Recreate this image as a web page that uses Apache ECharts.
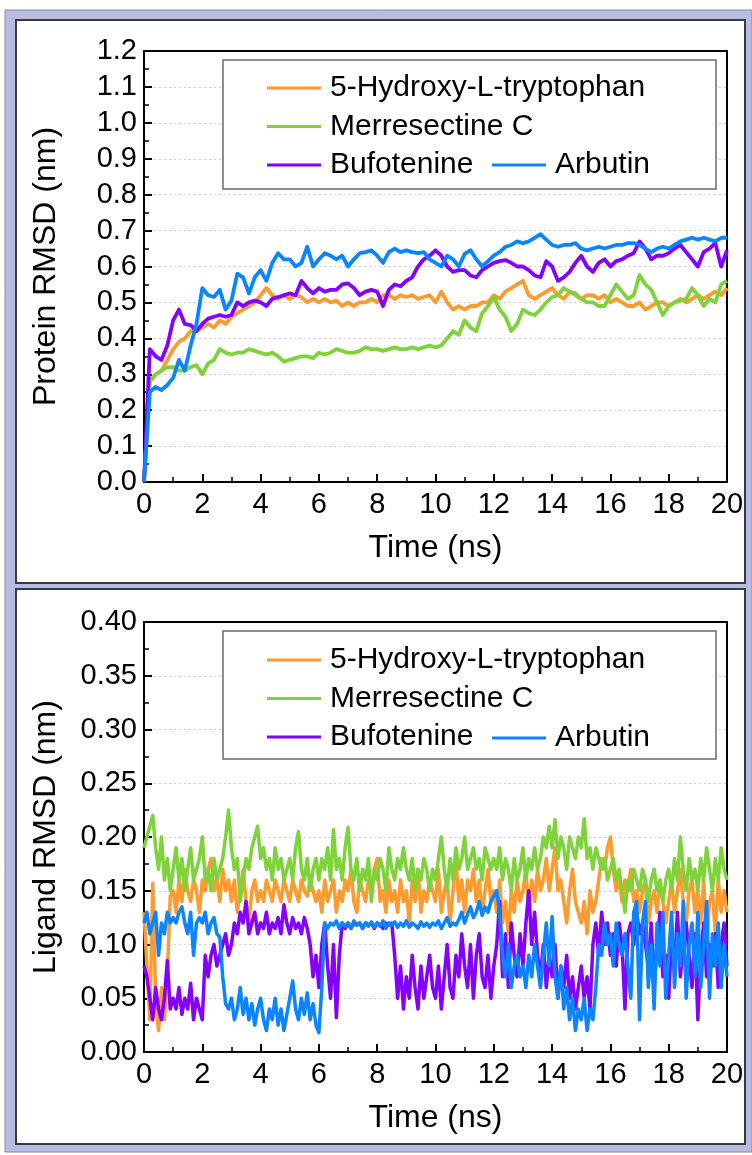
<!DOCTYPE html>
<html>
<head>
<meta charset="utf-8">
<script src="https://cdn.jsdelivr.net/npm/echarts@6/dist/echarts.min.js"></script>
<style>
html,body{margin:0;padding:0;background:#ffffff;}
#chart{width:752px;height:1155px;}
</style>
</head>
<body>
<div id="chart"></div>
<script>
// ---------- DATA ----------
const seriesNames = ['5-Hydroxy-L-tryptophan', 'Merresectine C', 'Bufotenine', 'Arbutin'];
const seriesColors = ['#ff9a2e', '#7ed23a', '#8400ff', '#0a84ff'];

const xTicks = [0, 2, 4, 6, 8, 10, 12, 14, 16, 18, 20];
const proteinTicks = [0.0, 0.1, 0.2, 0.3, 0.4, 0.5, 0.6, 0.7, 0.8, 0.9, 1.0, 1.1, 1.2];
const ligandTicks = [0.00, 0.05, 0.10, 0.15, 0.20, 0.25, 0.30, 0.35, 0.40];

// Protein RMSD (nm), sampled every 0.2 ns from 0 to 20 ns
const proteinStep = 0.2;
const proteinHTP = [
  0.00,0.28,0.30,0.31,0.34,0.37,0.39,0.40,0.42,0.42,
  0.43,0.44,0.43,0.45,0.44,0.46,0.47,0.48,0.49,0.50,
  0.52,0.54,0.52,0.51,0.52,0.51,0.52,0.515,0.50,0.51,
  0.50,0.51,0.50,0.505,0.49,0.50,0.49,0.50,0.50,0.51,
  0.50,0.52,0.52,0.51,0.52,0.515,0.52,0.51,0.515,0.52,
  0.50,0.53,0.50,0.48,0.49,0.48,0.49,0.49,0.50,0.50,
  0.52,0.51,0.53,0.54,0.55,0.56,0.52,0.51,0.52,0.53,
  0.54,0.52,0.51,0.53,0.52,0.51,0.52,0.52,0.51,0.52,
  0.50,0.51,0.50,0.49,0.49,0.50,0.48,0.49,0.50,0.50,
  0.49,0.50,0.51,0.50,0.51,0.52,0.51,0.52,0.53,0.52,
  0.54
];
const proteinMerC = [
  0.00,0.28,0.30,0.31,0.32,0.32,0.31,0.31,0.32,0.325,
  0.30,0.33,0.34,0.37,0.36,0.355,0.36,0.36,0.37,0.365,
  0.36,0.355,0.36,0.35,0.335,0.34,0.345,0.35,0.35,0.345,
  0.36,0.355,0.36,0.37,0.365,0.36,0.36,0.365,0.375,0.37,
  0.37,0.365,0.37,0.375,0.37,0.37,0.375,0.37,0.375,0.38,
  0.375,0.38,0.40,0.42,0.41,0.45,0.43,0.42,0.47,0.49,
  0.515,0.48,0.46,0.42,0.44,0.48,0.47,0.465,0.48,0.50,
  0.515,0.52,0.54,0.53,0.525,0.51,0.50,0.50,0.49,0.49,
  0.52,0.55,0.53,0.51,0.52,0.576,0.55,0.535,0.50,0.465,
  0.49,0.50,0.505,0.51,0.54,0.52,0.49,0.51,0.50,0.55,
  0.56
];
const proteinBufo = [
  0.00,0.37,0.35,0.34,0.38,0.45,0.48,0.44,0.437,0.42,
  0.44,0.455,0.46,0.465,0.46,0.465,0.50,0.49,0.50,0.505,
  0.50,0.49,0.51,0.515,0.52,0.525,0.52,0.56,0.54,0.525,
  0.54,0.53,0.535,0.535,0.55,0.553,0.54,0.52,0.53,0.535,
  0.53,0.49,0.535,0.55,0.545,0.56,0.57,0.60,0.62,0.63,
  0.645,0.63,0.60,0.585,0.59,0.59,0.575,0.57,0.59,0.60,
  0.61,0.615,0.618,0.61,0.60,0.60,0.59,0.575,0.57,0.615,
  0.60,0.56,0.57,0.585,0.61,0.63,0.60,0.585,0.61,0.62,
  0.60,0.615,0.62,0.63,0.637,0.67,0.65,0.62,0.63,0.63,
  0.637,0.65,0.66,0.64,0.62,0.60,0.64,0.65,0.665,0.60,
  0.645
];
const proteinArb = [
  0.00,0.25,0.265,0.256,0.27,0.29,0.34,0.31,0.38,0.44,
  0.54,0.52,0.515,0.535,0.48,0.505,0.58,0.57,0.525,0.57,
  0.59,0.56,0.61,0.637,0.62,0.62,0.60,0.61,0.655,0.60,
  0.62,0.637,0.63,0.62,0.63,0.60,0.62,0.637,0.64,0.645,
  0.63,0.61,0.64,0.65,0.64,0.645,0.64,0.637,0.64,0.62,
  0.61,0.60,0.63,0.62,0.60,0.635,0.645,0.62,0.60,0.615,
  0.63,0.64,0.655,0.66,0.67,0.665,0.67,0.68,0.69,0.675,
  0.66,0.655,0.66,0.66,0.665,0.65,0.645,0.65,0.655,0.65,
  0.655,0.66,0.66,0.665,0.665,0.66,0.65,0.64,0.65,0.655,
  0.65,0.66,0.67,0.675,0.68,0.675,0.68,0.675,0.67,0.68,
  0.68
];

// Ligand RMSD (nm), sampled every 0.1 ns from 0 to 20 ns
const ligandStep = 0.1;
const ligandHTP = [
  0.13,0.08,0.03,0.157,0.05,0.02,0.06,0.03,0.07,0.145,
  0.15,0.13,0.16,0.14,0.17,0.15,0.14,0.16,0.15,0.13,
  0.16,0.15,0.17,0.18,0.15,0.16,0.14,0.17,0.15,0.16,
  0.14,0.16,0.13,0.15,0.17,0.14,0.12,0.15,0.16,0.14,
  0.15,0.14,0.16,0.15,0.14,0.16,0.15,0.14,0.16,0.15,
  0.14,0.16,0.15,0.14,0.16,0.15,0.145,0.16,0.15,0.14,
  0.15,0.13,0.16,0.14,0.15,0.16,0.13,0.15,0.14,0.16,
  0.15,0.17,0.14,0.13,0.16,0.15,0.14,0.16,0.15,0.17,
  0.18,0.14,0.15,0.13,0.16,0.14,0.15,0.13,0.16,0.14,
  0.15,0.12,0.16,0.14,0.17,0.13,0.15,0.14,0.16,0.15,
  0.14,0.17,0.13,0.15,0.16,0.12,0.15,0.18,0.14,0.16,
  0.13,0.16,0.15,0.17,0.14,0.16,0.13,0.15,0.17,0.14,
  0.15,0.13,0.16,0.12,0.14,0.11,0.15,0.13,0.16,0.14,
  0.15,0.17,0.13,0.16,0.14,0.17,0.15,0.16,0.18,0.15,
  0.17,0.19,0.15,0.16,0.14,0.12,0.15,0.17,0.14,0.13,
  0.12,0.14,0.11,0.15,0.13,0.14,0.16,0.18,0.17,0.19,
  0.20,0.17,0.15,0.16,0.14,0.16,0.15,0.17,0.14,0.15,
  0.13,0.15,0.16,0.12,0.14,0.15,0.13,0.16,0.14,0.12,
  0.14,0.16,0.13,0.15,0.17,0.14,0.12,0.15,0.16,0.13,
  0.15,0.12,0.16,0.10,0.14,0.15,0.11,0.16,0.13,0.15,
  0.13
];
const ligandMerC = [
  0.19,0.20,0.21,0.22,0.19,0.17,0.20,0.16,0.18,0.15,
  0.17,0.19,0.16,0.18,0.15,0.17,0.19,0.16,0.17,0.18,
  0.20,0.16,0.17,0.15,0.18,0.16,0.17,0.18,0.20,0.225,
  0.19,0.17,0.18,0.14,0.16,0.18,0.17,0.19,0.20,0.21,
  0.18,0.19,0.17,0.18,0.16,0.19,0.17,0.18,0.16,0.17,
  0.18,0.16,0.19,0.205,0.17,0.16,0.18,0.15,0.17,0.18,
  0.16,0.18,0.17,0.19,0.16,0.207,0.17,0.18,0.16,0.19,
  0.209,0.17,0.16,0.18,0.15,0.17,0.16,0.18,0.14,0.17,
  0.16,0.18,0.17,0.15,0.19,0.17,0.16,0.18,0.17,0.19,
  0.17,0.16,0.18,0.15,0.17,0.16,0.18,0.17,0.15,0.17,
  0.16,0.18,0.20,0.17,0.15,0.18,0.16,0.19,0.17,0.18,
  0.20,0.17,0.18,0.19,0.17,0.18,0.16,0.19,0.18,0.17,
  0.18,0.17,0.19,0.16,0.18,0.17,0.15,0.18,0.16,0.17,
  0.19,0.16,0.18,0.17,0.19,0.17,0.18,0.20,0.19,0.21,
  0.19,0.216,0.18,0.20,0.19,0.17,0.20,0.19,0.18,0.20,
  0.19,0.217,0.18,0.19,0.17,0.19,0.18,0.17,0.18,0.16,
  0.17,0.18,0.16,0.17,0.15,0.13,0.16,0.15,0.17,0.16,
  0.15,0.17,0.16,0.14,0.16,0.17,0.15,0.16,0.14,0.16,
  0.17,0.15,0.18,0.16,0.20,0.17,0.15,0.18,0.16,0.17,
  0.15,0.18,0.16,0.19,0.17,0.15,0.18,0.16,0.19,0.17,
  0.16
];
const ligandBufo = [
  0.08,0.07,0.05,0.03,0.06,0.04,0.03,0.05,0.085,0.04,
  0.05,0.04,0.06,0.035,0.05,0.04,0.064,0.03,0.05,0.04,
  0.03,0.09,0.07,0.09,0.10,0.08,0.09,0.10,0.11,0.09,
  0.10,0.12,0.11,0.13,0.12,0.14,0.11,0.12,0.13,0.11,
  0.12,0.115,0.13,0.11,0.12,0.115,0.125,0.11,0.137,0.12,
  0.11,0.125,0.115,0.12,0.11,0.125,0.115,0.10,0.07,0.09,
  0.06,0.10,0.12,0.08,0.05,0.10,0.032,0.09,0.12,0.115,
  0.12,0.115,0.12,0.118,0.12,0.115,0.12,0.118,0.12,0.115,
  0.12,0.118,0.115,0.12,0.118,0.12,0.09,0.05,0.08,0.04,
  0.07,0.05,0.09,0.06,0.04,0.08,0.05,0.07,0.09,0.06,
  0.05,0.08,0.04,0.07,0.10,0.06,0.05,0.09,0.07,0.11,
  0.08,0.06,0.10,0.05,0.09,0.11,0.07,0.06,0.09,0.05,
  0.08,0.10,0.14,0.07,0.11,0.06,0.12,0.09,0.07,0.11,
  0.08,0.12,0.15,0.10,0.13,0.09,0.07,0.10,0.06,0.09,
  0.07,0.10,0.05,0.08,0.06,0.09,0.05,0.07,0.04,0.06,
  0.08,0.05,0.07,0.04,0.10,0.12,0.09,0.13,0.10,0.12,
  0.09,0.11,0.08,0.12,0.10,0.04,0.11,0.12,0.10,0.13,
  0.11,0.12,0.10,0.08,0.12,0.06,0.10,0.13,0.07,0.09,
  0.05,0.11,0.08,0.13,0.07,0.10,0.12,0.09,0.06,0.11,
  0.03,0.09,0.12,0.07,0.10,0.08,0.11,0.06,0.10,0.12,
  0.08
];
const ligandArb = [
  0.12,0.13,0.11,0.12,0.13,0.09,0.12,0.11,0.13,0.12,
  0.125,0.12,0.13,0.135,0.12,0.11,0.13,0.09,0.12,0.125,
  0.12,0.13,0.11,0.12,0.125,0.11,0.107,0.07,0.045,0.04,
  0.05,0.03,0.04,0.06,0.035,0.05,0.03,0.045,0.025,0.04,
  0.05,0.03,0.02,0.04,0.03,0.05,0.025,0.04,0.02,0.035,
  0.05,0.066,0.04,0.03,0.05,0.035,0.055,0.03,0.045,0.025,
  0.018,0.06,0.12,0.115,0.12,0.118,0.122,0.115,0.12,0.117,
  0.12,0.115,0.122,0.118,0.12,0.115,0.12,0.117,0.121,0.116,
  0.12,0.117,0.122,0.115,0.12,0.118,0.121,0.116,0.12,0.117,
  0.122,0.116,0.12,0.118,0.115,0.121,0.117,0.12,0.116,0.12,
  0.118,0.122,0.115,0.12,0.125,0.117,0.12,0.118,0.123,0.13,
  0.12,0.128,0.135,0.125,0.13,0.14,0.127,0.135,0.13,0.14,
  0.145,0.15,0.13,0.09,0.07,0.10,0.06,0.08,0.09,0.07,
  0.08,0.06,0.09,0.07,0.10,0.08,0.06,0.09,0.12,0.08,
  0.126,0.07,0.05,0.08,0.04,0.06,0.03,0.05,0.02,0.04,
  0.03,0.05,0.02,0.04,0.03,0.06,0.10,0.09,0.12,0.10,
  0.11,0.08,0.12,0.10,0.09,0.11,0.08,0.05,0.13,0.14,
  0.03,0.12,0.14,0.06,0.10,0.04,0.12,0.08,0.13,0.05,
  0.09,0.13,0.06,0.11,0.08,0.14,0.05,0.10,0.12,0.07,
  0.13,0.06,0.10,0.14,0.05,0.11,0.08,0.12,0.06,0.10,
  0.07
];

// ---------- CHART ----------
const FONT = '"Liberation Sans", Arial, Helvetica, sans-serif';
const toPairs = (vals, step) => vals.map((v, i) => [Math.round(i * step * 100) / 100, v]);

const proteinData = [proteinHTP, proteinMerC, proteinBufo, proteinArb];
const ligandData = [ligandHTP, ligandMerC, ligandBufo, ligandArb];

const GRID_LEFT = 144, GRID_W = 583;
const grids = [
  {left: GRID_LEFT, top: 51, width: GRID_W, height: 431},
  {left: GRID_LEFT, top: 622, width: GRID_W, height: 430}
];

function makeX(idx) {
  return {
    gridIndex: idx, type: 'value',
    min: xTicks[0], max: xTicks[xTicks.length - 1], interval: xTicks[1] - xTicks[0],
    axisLine: {show: true, onZero: false, lineStyle: {color: '#000', width: 2}},
    axisTick: {show: true, inside: true, length: 8, lineStyle: {color: '#000', width: 2}},
    minorTick: {show: true, splitNumber: 2, length: 5, lineStyle: {color: '#000', width: 1.5}},
    axisLabel: {fontSize: 29, color: '#000', margin: 8, fontFamily: FONT},
    splitLine: {show: false},
    name: 'Time (ns)', nameLocation: 'middle', nameGap: 50,
    nameTextStyle: {fontSize: 32, color: '#000', fontFamily: FONT}
  };
}
function makeY(idx, ticks, digits, title) {
  return {
    gridIndex: idx, type: 'value',
    min: ticks[0], max: ticks[ticks.length - 1], interval: Math.round((ticks[1] - ticks[0]) * 1000) / 1000,
    axisLine: {show: true, onZero: false, lineStyle: {color: '#000', width: 2}},
    axisTick: {show: true, inside: true, length: 8, lineStyle: {color: '#000', width: 2}},
    minorTick: {show: true, splitNumber: 2, length: 5, lineStyle: {color: '#000', width: 1.5}},
    axisLabel: {fontSize: 29, color: '#000', margin: 7, fontFamily: FONT,
      formatter: v => v.toFixed(digits)},
    splitLine: {show: true, showMinLine: false, showMaxLine: false,
      lineStyle: {color: '#cfcfcf', width: 1.2, type: [2, 3]}},
    name: title, nameLocation: 'middle', nameGap: 82,
    nameTextStyle: {fontSize: 32, color: '#000', fontFamily: FONT}
  };
}

const series = [];
proteinData.forEach((vals, i) => {
  series.push({
    name: seriesNames[i], type: 'line', xAxisIndex: 0, yAxisIndex: 0,
    data: toPairs(vals, proteinStep), showSymbol: false, symbol: 'none',
    lineStyle: {color: seriesColors[i], width: 3.8, join: 'round'}, itemStyle: {color: seriesColors[i]},
    emphasis: {disabled: true}, animation: false, z: 3 + i * 0.01
  });
});
ligandData.forEach((vals, i) => {
  series.push({
    name: seriesNames[i], type: 'line', xAxisIndex: 1, yAxisIndex: 1,
    data: toPairs(vals, ligandStep), showSymbol: false, symbol: 'none',
    lineStyle: {color: seriesColors[i], width: 3.5, join: 'round'}, itemStyle: {color: seriesColors[i]},
    emphasis: {disabled: true}, animation: false, z: 3 + i * 0.01
  });
});

function legendBlock(names, left, top) {
  return {
    data: names, orient: 'vertical', left: left, top: top,
    icon: 'rect', itemWidth: 54, itemHeight: 3, itemGap: 4.5, padding: 0,
    selectedMode: false,
    textStyle: {fontSize: 30, color: '#000', fontFamily: FONT, lineHeight: 34, padding: [0, 0, 0, 4]}
  };
}

const option = {
  backgroundColor: '#ffffff',
  animation: false,
  grid: grids.map(g => Object.assign({show: true, borderColor: '#000', borderWidth: 2,
    backgroundColor: 'transparent', containLabel: false}, g)),
  xAxis: [makeX(0), makeX(1)],
  yAxis: [makeY(0, proteinTicks, 1, 'Protein RMSD (nm)'), makeY(1, ligandTicks, 2, 'Ligand RMSD (nm)')],
  legend: [
    legendBlock(seriesNames.slice(0, 3), 267, 71),
    legendBlock([seriesNames[3]], 492, 148),
    legendBlock(seriesNames.slice(0, 3), 267, 643),
    legendBlock([seriesNames[3]], 492, 721)
  ],
  graphic: [
    {type: 'rect', z: -20, shape: {x: 5, y: 10, width: 747, height: 1142},
      style: {fill: '#b6bce4', stroke: '#8a8a98', lineWidth: 1}},
    {type: 'rect', z: -19, shape: {x: 16, y: 20, width: 729, height: 563},
      style: {fill: '#ffffff', stroke: '#3a3a3a', lineWidth: 2}},
    {type: 'rect', z: -19, shape: {x: 16, y: 589, width: 729, height: 555},
      style: {fill: '#ffffff', stroke: '#3a3a3a', lineWidth: 2}},
    {type: 'rect', z: 2, shape: {x: 223, y: 60, width: 493, height: 129},
      style: {fill: '#ffffff', stroke: '#6a6a6a', lineWidth: 1.5}},
    {type: 'rect', z: 2, shape: {x: 223, y: 631, width: 493, height: 128},
      style: {fill: '#ffffff', stroke: '#6a6a6a', lineWidth: 1.5}}
  ],
  series: series
};

const chart = echarts.init(document.getElementById('chart'), null, {renderer: 'canvas'});
chart.setOption(option);
</script>
</body>
</html>
